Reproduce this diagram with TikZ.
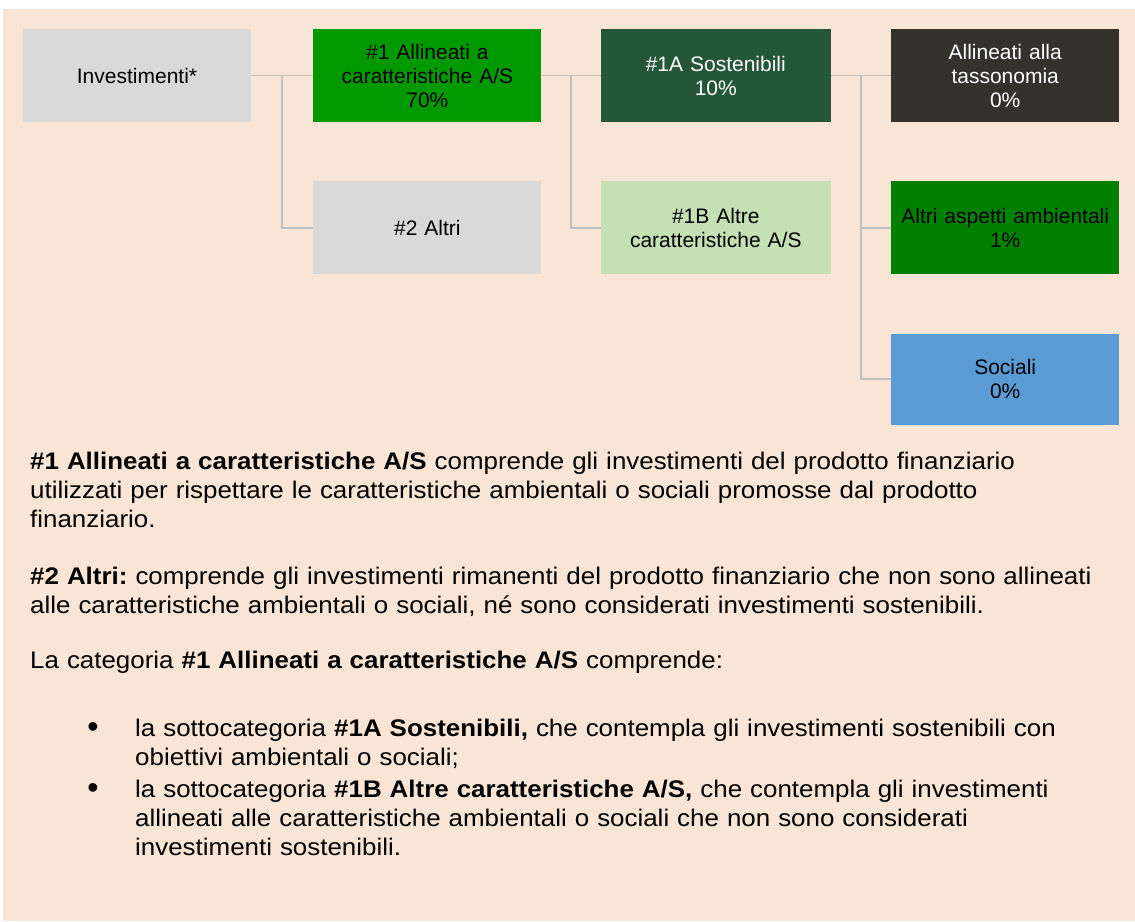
\documentclass[tikz,border=0pt]{standalone}
\usepackage{fontspec}
\setmainfont{Liberation Sans}
\newfontfamily\notefont[FakeStretch=1.08, WordSpace=1.25]{Liberation Sans}
\usepackage{tikz}
\usetikzlibrary{positioning, calc}

\definecolor{peach}{HTML}{F9E5D5}
\definecolor{boxgray}{HTML}{D9D9D9}
\definecolor{alignedgreen}{HTML}{009900}
\definecolor{sustgreen}{HTML}{255638}
\definecolor{palegreen}{HTML}{C5E0B4}
\definecolor{taxdark}{HTML}{33332B}
\definecolor{envgreen}{HTML}{008000}
\definecolor{socblue}{HTML}{5B9BD5}
\definecolor{linkgray}{HTML}{BFBFBF}

\begin{document}
\frenchspacing
\begin{tikzpicture}[x=1pt, y=-1pt,
  every node/.style={font=\fontsize{21}{24}\selectfont},
  box/.style={minimum width=228pt, minimum height=93pt, inner sep=0pt,
    text width=222pt, align=center},
  link/.style={draw=linkgray, line width=1.8pt},
  body/.style={anchor=base west, inner sep=0pt, text width=1100pt, align=left,
    font=\notefont\fontsize{24}{29}\selectfont},
  dot/.style={anchor=base, inner sep=0pt, font=\fontsize{32}{29}\selectfont}
]
\useasboundingbox (0,0) rectangle (1135,921);
\fill[peach] (3,9) rectangle (1135,921);

% tree of the investments
\node [box, fill=boxgray] (inv) at (137,75.5) {Investimenti*};
\node [box, fill=alignedgreen, right=62pt of inv] (a1) {\#1 Allineati a\\caratteristiche A/S\\70\%};
\node [box, fill=boxgray, below=59pt of a1] (others) {\#2 Altri};
\node [box, fill=sustgreen, text=white, minimum width=230pt, right=59pt of a1] (sust) {\#1A Sostenibili\\10\%};
\node [box, fill=palegreen, minimum width=230pt, below=59pt of sust] (b1) {\#1B Altre\\caratteristiche A/S};
\node [box, fill=taxdark, text=white, right=60pt of sust] (tax) {Allineati alla\\tassonomia\\0\%};
\node [box, fill=envgreen, below=59pt of tax] (env) {Altri aspetti ambientali\\1\%};
\node [box, fill=socblue, minimum height=91pt, below=59pt of env] (soc) {Sociali\\0\%};

\coordinate (j1) at ($(inv.east)!0.5!(a1.west)$);
\coordinate (j2) at ($(a1.east)!0.5!(sust.west)$);
\coordinate (j3) at ($(sust.east)!0.5!(tax.west)$);

\draw[link] (inv.east) -- (a1.west);
\draw[link] (j1) |- (others.west);
\draw[link] (a1.east) -- (sust.west);
\draw[link] (j2) |- (b1.west);
\draw[link] (sust.east) -- (tax.west);
\draw[link] (j3) |- (env.west);
\draw[link] (j3) |- (soc.west);

% notes
\node [body] (note1) at (30,469) {\textbf{\#1 Allineati a caratteristiche A/S} comprende gli investimenti del prodotto finanziario\\
utilizzati per rispettare le caratteristiche ambientali o sociali promosse dal prodotto\\
finanziario.};
\node [body] (note2) at (30,584) {\textbf{\#2 Altri:} comprende gli investimenti rimanenti del prodotto finanziario che non sono allineati\\
alle caratteristiche ambientali o sociali, né sono considerati investimenti sostenibili.};
\node [body] (note3) at (30,668) {La categoria \textbf{\#1 Allineati a caratteristiche A/S} comprende:};

\node [body, text width=990pt] (item1) at (135,736) {la sottocategoria \textbf{\#1A Sostenibili,} che contempla gli investimenti sostenibili con\\
obiettivi ambientali o sociali;};
\node [body, text width=990pt] (item2) at (135,797) {la sottocategoria \textbf{\#1B Altre caratteristiche A/S,} che contempla gli investimenti\\
allineati alle caratteristiche ambientali o sociali che non sono considerati\\
investimenti sostenibili.};
\node [dot] (dot1) at (93,737) {•};
\node [dot] (dot2) at (93,798) {•};
\end{tikzpicture}
\end{document}
